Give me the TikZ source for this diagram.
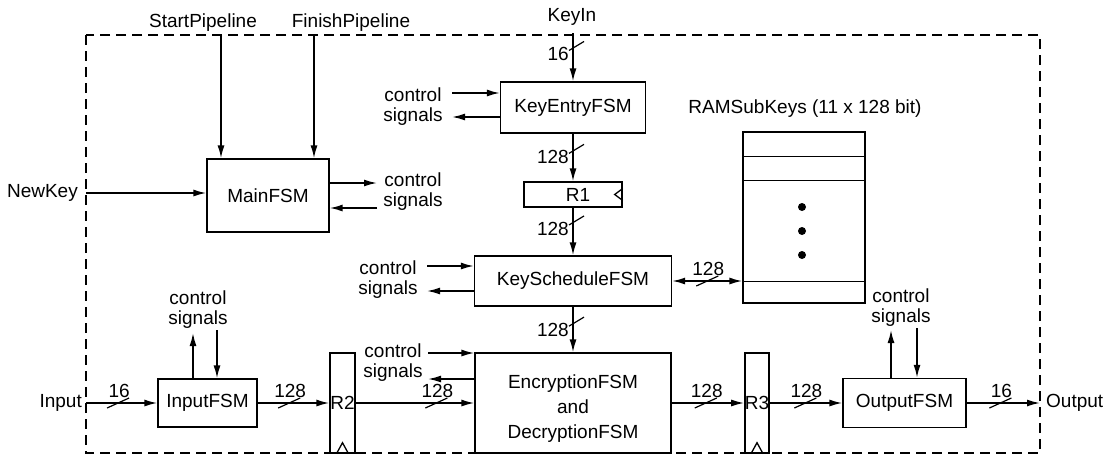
\documentclass[tikz,border=0pt]{standalone}
\usepackage{fontspec}
\setmainfont{Liberation Sans}
\usetikzlibrary{arrows.meta, calc}

\tikzset{
  fsm/.style={draw, line width=1.4pt, inner sep=0pt},
  ctl/.style={align=center, inner sep=0pt},
  arw/.style={line width=1.6pt, -{Latex[length=13pt,width=7pt]}},
  darw/.style={line width=1.6pt, {Latex[length=13pt,width=7pt]}-{Latex[length=13pt,width=7pt]}},
  border/.style={line width=1.3pt, dash pattern=on 10pt off 6pt},
  hbus/.pic={
    \draw[line width=1.2pt] (-11,5) -- (11,-5);
    \node[anchor=south, inner sep=0pt] at (1,-5) {\tikzpictext};
  },
  vbus/.pic={
    \draw[line width=1.2pt] (-4,3) -- (11,-6);
    \node[anchor=north east, inner sep=0pt] at (-4,0) {\tikzpictext};
  }
}

\begin{document}
\begin{tikzpicture}[x=1pt, y=-1pt, font=\fontsize{19}{20}\selectfont]
  \useasboundingbox (0,0) rectangle (1105,455);
  \draw[border] (86,35) rectangle (1040,453);

  % blocks
  \node[fsm, minimum width=122pt, minimum height=73pt] (mfsm) at (268,195.5) {MainFSM};
  \node[fsm, minimum width=145pt, minimum height=51pt] (kefsm) at (573,107.5) {KeyEntryFSM};
  \node[fsm, minimum width=98pt, minimum height=25pt,
        label={[xshift=5pt]center:R1}] (r1) at (573,194.5) {};
  \node[fsm, minimum width=197pt, minimum height=50pt] (ksfsm) at (573,281) {KeyScheduleFSM};
  \node[fsm, minimum width=196pt, minimum height=100pt,
        label={[align=center, yshift=-6pt, font=\fontsize{19}{25}\selectfont]center:EncryptionFSM\\and\\DecryptionFSM}] (enc) at (573,403) {};
  \node[fsm, minimum width=25pt, minimum height=100pt] (r2) at (342.5,403) {R2};
  \node[fsm, minimum width=24pt, minimum height=100pt] (r3) at (757,403) {R3};
  \node[fsm, minimum width=99pt, minimum height=48pt] (ifsm) at (207.5,403) {InputFSM};
  \node[fsm, minimum width=123pt, minimum height=49pt] (ofsm) at (904.5,403) {OutputFSM};
  \node[fsm, minimum width=122pt, minimum height=171pt] (ram) at (804,217.5) {};
  \node (ramlbl) at (805,109) {RAMSubKeys (11 x 128 bit)};

  % RAM rows and dots
  \draw[line width=1.4pt] ([yshift=-25pt]ram.north west) -- ([yshift=-25pt]ram.north east);
  \draw[line width=1.4pt] ([yshift=-49pt]ram.north west) -- ([yshift=-49pt]ram.north east);
  \draw[line width=1.4pt] ([yshift=22pt]ram.south west) -- ([yshift=22pt]ram.south east);
  \foreach \y in {207,231,255}
    \fill (802,\y) circle (4pt);

  % clock marks
  \draw[line width=1.3pt] ([yshift=6pt]r1.east) -- ([xshift=-8pt]r1.east) -- ([yshift=-6pt]r1.east);
  \draw[line width=1.3pt] ([xshift=-6pt]r2.south) -- ([yshift=11pt]r2.south) -- ([xshift=6pt]r2.south);
  \draw[line width=1.3pt] ([xshift=-6pt]r3.south) -- ([yshift=11pt]r3.south) -- ([xshift=6pt]r3.south);

  % outside signals
  \node (spl) at (203,23) {StartPipeline};
  \node (fpl) at (351,23) {FinishPipeline};
  \node (kinl) at (572,17) {KeyIn};
  \node[anchor=east, inner sep=1pt] (nkl) at (79,193) {NewKey};
  \node[anchor=east, inner sep=1pt] (inl) at (83,403) {Input};
  \node[anchor=west, inner sep=1pt] (outl) at (1045,403) {Output};

  \coordinate (spin) at (221,35);
  \coordinate (fpin) at (314,35);
  \coordinate (kin) at (573,33);
  \coordinate (nkin) at (86,193);
  \coordinate (inp) at (86,403);
  \coordinate (outp) at (1040,403);

  \draw[arw] (spin) -- (spin |- mfsm.north);
  \draw[arw] (fpin) -- (fpin |- mfsm.north);
  \draw[arw] (nkin) -- (nkin -| mfsm.west);
  \draw[arw] (kin) -- (kefsm.north);
  \pic[pic text=16] at ($(kin)!0.3!(kefsm.north)$) {vbus};

  % key path
  \draw[arw] (kefsm.south) -- (r1.north);
  \pic[pic text=128] at ($(kefsm.south)!0.35!(r1.north)$) {vbus};
  \draw[arw] (r1.south) -- (ksfsm.north);
  \pic[pic text=128] at ($(r1.south)!0.3!(ksfsm.north)$) {vbus};
  \draw[arw] (ksfsm.south) -- (enc.north);
  \pic[pic text=128] at ($(ksfsm.south)!0.36!(enc.north)$) {vbus};
  \draw[darw] (ksfsm.east) -- (ksfsm.east -| ram.west);
  \pic[pic text=128] at ($(ksfsm.east)!0.5!(ksfsm.east -| ram.west)$) {hbus};

  % data path
  \draw[arw] (inp) -- (ifsm.west);
  \pic[pic text=16] at ($(inp)!0.45!(ifsm.west)$) {hbus};
  \draw[arw] (ifsm.east) -- (r2.west);
  \pic[pic text=128] at ($(ifsm.east)!0.44!(r2.west)$) {hbus};
  \draw[arw] (r2.east) -- (enc.west);
  \pic[pic text=128] at ($(r2.east)!0.68!(enc.west)$) {hbus};
  \draw[arw] (enc.east) -- (r3.west);
  \pic[pic text=128] at ($(enc.east)!0.47!(r3.west)$) {hbus};
  \draw[arw] (r3.east) -- (ofsm.west);
  \pic[pic text=128] at ($(r3.east)!0.49!(ofsm.west)$) {hbus};
  \draw[arw] (ofsm.east) -- (outp);
  \pic[pic text=16] at ($(ofsm.east)!0.46!(outp)$) {hbus};

  % control signals
  \node[ctl] (mctl) at (413,192) {control\\signals};
  \coordinate (mout) at (377,183);
  \coordinate (min) at (377,208);
  \draw[arw] (mout -| mfsm.east) -- (mout);
  \draw[arw] (min) -- (min -| mfsm.east);

  \node[ctl] (kectl) at (413,107) {control\\signals};
  \coordinate (kein) at (452,93);
  \coordinate (keout) at (452,117);
  \draw[arw] (kein) -- (kein -| kefsm.west);
  \draw[arw] (keout -| kefsm.west) -- (keout);

  \node[ctl] (ksctl) at (388,280) {control\\signals};
  \coordinate (ksin) at (427,266);
  \coordinate (ksout) at (427,291);
  \draw[arw] (ksin) -- (ksin -| ksfsm.west);
  \draw[arw] (ksout -| ksfsm.west) -- (ksout);

  \node[ctl] (encctl) at (393,363) {control\\signals};
  \coordinate (encin) at (428,353);
  \coordinate (encout) at (428,379);
  \draw[arw] (encin) -- (encin -| enc.west);
  \draw[arw] (encout -| enc.west) -- (encout);

  \node[ctl] (ictl) at (198,310) {control\\signals};
  \coordinate (iup) at (193,333);
  \coordinate (idn) at (217,330);
  \draw[arw] (iup |- ifsm.north) -- (iup);
  \draw[arw] (idn) -- (idn |- ifsm.north);

  \node[ctl] (octl) at (901,308) {control\\signals};
  \coordinate (oup) at (891,330);
  \coordinate (odn) at (917,328);
  \draw[arw] (oup |- ofsm.north) -- (oup);
  \draw[arw] (odn) -- (odn |- ofsm.north);
\end{tikzpicture}
\end{document}
